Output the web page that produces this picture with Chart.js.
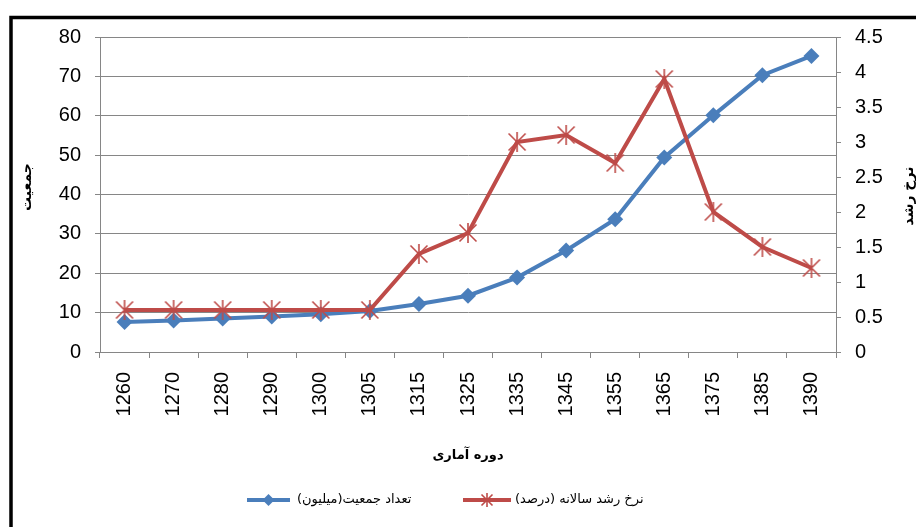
<!DOCTYPE html>
<html>
<head>
<meta charset="utf-8">
<script src="https://cdn.jsdelivr.net/npm/chart.js@4.4.0/dist/chart.umd.min.js"></script>
<style>
html,body{margin:0;padding:0;background:#fff;}
#wrap{width:916px;height:527px;position:relative;}
</style>
</head>
<body>
<div id="wrap"><canvas id="c" width="916" height="527"></canvas></div>
<script>
// ---- data ----
const categories = ['1260','1270','1280','1290','1300','1305','1315','1325','1335','1345','1355','1365','1375','1385','1390'];
const population = [7.6, 8.0, 8.5, 9.0, 9.6, 10.4, 12.2, 14.3, 18.9, 25.8, 33.7, 49.4, 60.1, 70.3, 75.2];
const growthRate = [0.6, 0.6, 0.6, 0.6, 0.6, 0.6, 1.4, 1.7, 3.0, 3.1, 2.7, 3.9, 2.0, 1.5, 1.2];
const popLabel = 'تعداد جمعیت(میلیون)';
const rateLabel = 'نرخ رشد سالانه (درصد)';
const yTitle = 'جمعیت';
const y1Title = 'نرخ رشد';
const xTitle = 'دوره آماری';

const BLUE = '#4a7ebb';
const RED = '#be4b48';
const GRID = '#868686';
const PERSIAN = '"DejaVu Sans", "Noto Sans", sans-serif';

function starMarker(size, color) {
  const c = document.createElement('canvas');
  c.width = size; c.height = size;
  const g = c.getContext('2d');
  g.strokeStyle = color; g.lineWidth = 1.6;
  const m = 1.5, s = size;
  g.beginPath();
  g.moveTo(m, m); g.lineTo(s - m, s - m);
  g.moveTo(s - m, m); g.lineTo(m, s - m);
  g.moveTo(s / 2, 0); g.lineTo(s / 2, s);
  g.stroke();
  return c;
}
const redStar = starMarker(20, RED);

const decor = {
  id: 'decor',
  afterDraw(chart) {
    const ctx = chart.ctx;
    ctx.save();
    // frame
    ctx.strokeStyle = '#000';
    ctx.lineWidth = 3.5;
    ctx.beginPath();
    ctx.moveTo(11, 527); ctx.lineTo(11, 17.5); ctx.lineTo(916, 17.5);
    ctx.stroke();

    // axis titles
    ctx.fillStyle = '#000';
    ctx.textAlign = 'center';
    ctx.textBaseline = 'middle';
    ctx.direction = 'rtl';
    ctx.font = 'bold 13px ' + PERSIAN;
    const a = chart.chartArea;
    ctx.fillText(xTitle, (a.left + a.right) / 2, 456);
    ctx.font = 'bold 14px ' + PERSIAN;
    ctx.save();
    ctx.translate(27, 187);
    ctx.rotate(-Math.PI / 2);
    ctx.fillText(yTitle, 0, 0);
    ctx.restore();
    ctx.save();
    ctx.translate(909, 196);
    ctx.rotate(-Math.PI / 2);
    ctx.fillText(y1Title, 0, 0);
    ctx.restore();

    // legend
    const ly = 500;
    const ds = chart.data.datasets;
    ctx.strokeStyle = ds[0].borderColor; ctx.lineWidth = 4;
    ctx.beginPath(); ctx.moveTo(247, ly); ctx.lineTo(290, ly); ctx.stroke();
    ctx.fillStyle = ds[0].borderColor;
    ctx.beginPath();
    ctx.moveTo(268.5, ly - 6); ctx.lineTo(274.5, ly); ctx.lineTo(268.5, ly + 6); ctx.lineTo(262.5, ly);
    ctx.closePath(); ctx.fill();
    ctx.strokeStyle = ds[1].borderColor; ctx.lineWidth = 4;
    ctx.beginPath(); ctx.moveTo(463, ly); ctx.lineTo(511, ly); ctx.stroke();
    ctx.drawImage(starMarker(14, RED), 487 - 7, ly - 7);
    ctx.fillStyle = '#000';
    ctx.font = '13px ' + PERSIAN;
    ctx.textAlign = 'left';
    ctx.fillText(ds[0].label, 297, ly);
    ctx.fillText(ds[1].label, 515, ly);
    ctx.restore();
  }
};

new Chart(document.getElementById('c'), {
  type: 'line',
  data: {
    labels: categories,
    datasets: [
      {
        label: popLabel,
        data: population,
        yAxisID: 'y',
        borderColor: BLUE,
        backgroundColor: BLUE,
        borderWidth: 4,
        pointStyle: 'rectRot',
        pointRadius: 8,
        pointBorderWidth: 0,
        tension: 0,
        order: 2
      },
      {
        label: rateLabel,
        data: growthRate,
        yAxisID: 'y1',
        borderColor: RED,
        backgroundColor: RED,
        borderWidth: 4,
        pointStyle: redStar,
        pointRadius: 10,
        tension: 0,
        order: 1
      }
    ]
  },
  options: {
    responsive: false,
    devicePixelRatio: 1,
    animation: false,
    layout: { padding: { top: 37, bottom: 57, left: 0, right: 0 } },
    plugins: {
      legend: { display: false },
      tooltip: { enabled: false }
    },
    scales: {
      x: {
        type: 'category',
        offset: true,
        grid: { display: true, offset: true, drawOnChartArea: false, drawTicks: true, tickLength: 6, color: GRID, lineWidth: 1 },
        border: { color: GRID, width: 1 },
        ticks: {
          autoSkip: false, minRotation: 90, maxRotation: 90, padding: 14,
          color: '#000', font: { family: 'Liberation Sans', size: 20 }
        },
        afterFit(s) { s.height = 118; }
      },
      y: {
        position: 'left',
        min: 0, max: 80,
        grid: { color: GRID, lineWidth: 1, tickLength: 5 },
        border: { color: GRID, width: 1 },
        ticks: {
          stepSize: 10, padding: 14, color: '#000',
          font: { family: 'Liberation Sans', size: 20 }
        },
        afterFit(s) { s.width = 100; }
      },
      y1: {
        position: 'right',
        min: 0, max: 4.5,
        grid: { drawOnChartArea: false, color: GRID, lineWidth: 1, tickLength: 5 },
        border: { color: GRID, width: 1 },
        ticks: {
          stepSize: 0.5, padding: 14, color: '#000',
          font: { family: 'Liberation Sans', size: 20 },
          callback: (v) => String(Math.round(v * 10) / 10)
        },
        afterFit(s) { s.width = 80; }
      }
    }
  },
  plugins: [decor]
});
</script>
</body>
</html>
